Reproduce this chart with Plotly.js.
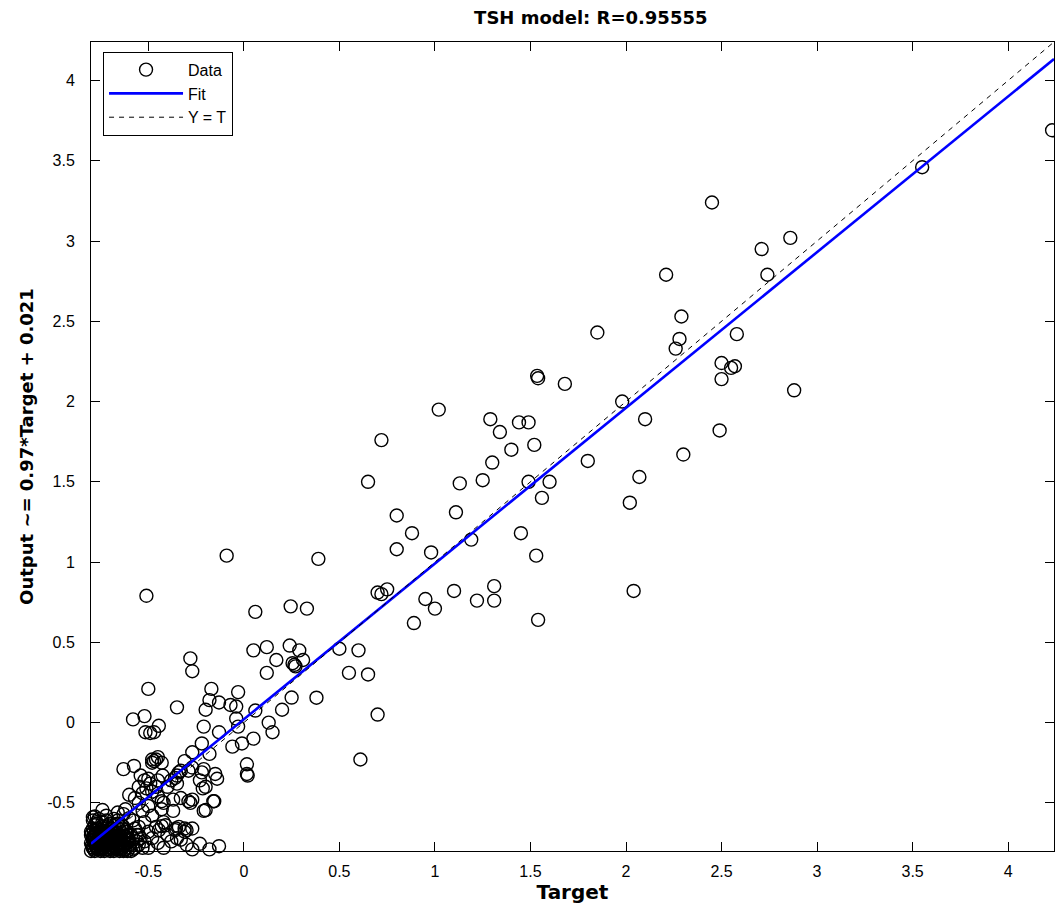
<!DOCTYPE html>
<html>
<head>
<meta charset="utf-8">
<script src="https://cdn.plot.ly/plotly-3.0.1.min.js"></script>
<style>html,body{margin:0;padding:0;background:#fff;}#chart{width:1055px;height:906px;}</style>
</head>
<body>
<div id="chart"></div>
<script>
// Target values (x) and network Output values (y)
const targetVals = [
  4.23, 3.55, 2.45, 2.86, 2.71, 2.21, 2.74, 2.29, 1.85, 2.58, 2.28, 2.26, 2.50, 2.55, 2.57, 2.50, 1.68, 1.98, 2.88, 2.10,
  2.49, 1.80, 2.30, 2.07, 2.02, 2.04, 1.535, 1.54, 1.60, 1.56, 1.49, 1.52, 1.53, 1.54,
  1.02, 1.29, 1.44, 1.49, 1.34, 0.72, 1.40, 1.30, 0.65, 1.13, 1.25, 0.80, 1.11, 0.88, 1.45, 1.19, 0.39, 0.80, 0.98,
  0.70, 0.72, 0.75, 1.10, 1.31, 0.95, 1.22, 1.31, 1.00, 0.89, 0.33,
  0.50, 0.60, 0.55, 0.65, 0.70, 0.61, 0.38, 0.25,
  -0.09, -0.51, 0.06, 0.245,
  -0.28, -0.27, 0.05, 0.12, 0.24, 0.29, 0.17, 0.255, 0.265, 0.27, 0.31, 0.12,
  -0.17, -0.03, -0.18, -0.13, -0.07, -0.04, -0.35, -0.20, 0.06, 0.20, -0.04, 0.13, 0.15, -0.21, -0.03, -0.13, 0.05,
  -0.22, -0.27, -0.01, -0.06, -0.18, -0.31, -0.34, -0.21, 0.016, 0.016, 0.02, -0.15, -0.14, -0.35, -0.20,
  -0.50, -0.58, -0.52, -0.515, -0.49, -0.47, -0.445,
  -0.63, -0.48, -0.45, -0.47, -0.43, -0.575, -0.46, -0.48,
  -0.425, -0.36, -0.29, -0.27, -0.23, -0.22, -0.215,
  -0.20, -0.155, -0.27, -0.28, -0.37, -0.45, -0.43, -0.37, -0.33, -0.29, -0.21, -0.16, -0.43, -0.42,
  -0.36, -0.34, -0.31, -0.30, -0.46, -0.43, -0.445, -0.42, -0.41, -0.355, -0.31, -0.27,
  -0.54, -0.52, -0.50, -0.49, -0.55, -0.51, -0.48, -0.46, -0.45, -0.53,
  -0.40, -0.38, -0.35, -0.33,
  -0.78, -0.74, -0.72, -0.62, -0.63, -0.60, -0.58, -0.79, -0.77, -0.66, -0.68, -0.70, -0.55, -0.57, -0.60, -0.53,
  -0.50, -0.48, -0.52, -0.55, -0.50, -0.48, -0.52, -0.56, -0.40, -0.38, -0.35, -0.45, -0.42, -0.50, -0.55,
  -0.23, -0.18, -0.13, -0.30, -0.27, -0.33,
  -0.80, -0.79, -0.78, -0.77, -0.76, -0.75, -0.74, -0.73, -0.72, -0.71, -0.70, -0.69, -0.68, -0.67, -0.66, -0.65,
  -0.64, -0.63, -0.62, -0.61, -0.60, -0.59,
  -0.80, -0.79, -0.78, -0.77, -0.76, -0.75, -0.74, -0.73, -0.72, -0.71, -0.70, -0.69, -0.68, -0.67, -0.66, -0.65,
  -0.64, -0.63, -0.62, -0.61, -0.60,
  -0.80, -0.79, -0.77, -0.75, -0.73, -0.71, -0.69, -0.67, -0.65, -0.63, -0.78, -0.74, -0.70, -0.66, -0.62, -0.58,
  -0.57, -0.56,
  -0.795, -0.785, -0.775, -0.765, -0.755, -0.745, -0.735, -0.725, -0.715, -0.705, -0.695, -0.685, -0.675, -0.665,
  -0.655, -0.645, -0.635, -0.625, -0.79, -0.77, -0.75, -0.73, -0.71, -0.69, -0.67, -0.65, -0.63, -0.61,
  -0.785, -0.76, -0.735, -0.71, -0.685, -0.66, -0.635, -0.61, -0.59, -0.57, -0.55, -0.60, -0.58, -0.54, -0.53,
  -0.77, -0.74, -0.72, -0.76, -0.79, -0.80, -0.71, -0.68, -0.66, -0.64,
  -0.792, -0.782, -0.772, -0.762, -0.752, -0.742, -0.732, -0.722, -0.712, -0.702, -0.692, -0.682, -0.672, -0.662,
  -0.652, -0.642, -0.632, -0.788, -0.768, -0.748, -0.728, -0.708, -0.688, -0.668, -0.648, -0.628, -0.608,
  -0.795, -0.775, -0.755, -0.735, -0.715, -0.695, -0.675, -0.655
];
const outputVals = [
  3.69, 3.46, 3.24, 3.02, 2.95, 2.79, 2.79, 2.53, 2.43, 2.42, 2.39, 2.33, 2.24, 2.21, 2.22, 2.14, 2.11, 2.00, 2.07, 1.89,
  1.82, 1.63, 1.67, 1.53, 1.37, 0.82, 2.16, 2.145, 1.50, 1.40, 1.50, 1.73, 1.04, 0.64,
  1.95, 1.89, 1.87, 1.87, 1.81, 1.76, 1.70, 1.62, 1.50, 1.49, 1.51, 1.29, 1.31, 1.18, 1.18, 1.14, 1.02, 1.08, 1.06,
  0.81, 0.80, 0.83, 0.82, 0.85, 0.77, 0.76, 0.76, 0.71, 0.62, 0.71,
  0.46, 0.45, 0.31, 0.30, 0.05, -0.23, 0.155, 0.156,
  1.04, 0.79, 0.69, 0.724,
  0.40, 0.32, 0.45, 0.47, 0.48, 0.45, 0.39, 0.37, 0.36, 0.35, 0.39, 0.31,
  0.21, 0.19, 0.14, 0.125, 0.11, 0.10, 0.095, 0.08, 0.075, 0.08, 0.025, 0.00, -0.06, -0.025, -0.025, -0.06, -0.10,
  -0.13, -0.185, -0.13, -0.15, -0.195, -0.24, -0.31, -0.29, -0.26, -0.32, -0.33, -0.32, -0.35, -0.38, -0.40,
  0.21, 0.02, 0.04, -0.06, -0.065, -0.06, -0.02,
  -0.29, -0.23, -0.215, -0.24, -0.25, -0.27, -0.23, -0.25,
  -0.33, -0.345, -0.30, -0.28, -0.36, -0.31, -0.41,
  -0.545, -0.49, -0.48, -0.50, -0.55, -0.46, -0.49, -0.48, -0.47, -0.49, -0.55, -0.49, -0.54, -0.50,
  -0.67, -0.65, -0.68, -0.67, -0.65, -0.645, -0.67, -0.62, -0.64, -0.66, -0.66, -0.66,
  -0.33, -0.36, -0.35, -0.38, -0.40, -0.41, -0.43, -0.40, -0.36, -0.44,
  -0.40, -0.36, -0.33, -0.30,
  -0.585, -0.545, -0.58, -0.54, -0.57, -0.595, -0.61, -0.59, -0.62, -0.56, -0.60, -0.63, -0.50, -0.47, -0.45, -0.55,
  -0.52, -0.58, -0.62, -0.65, -0.68, -0.72, -0.74, -0.70, -0.70, -0.74, -0.72, -0.75, -0.78, -0.78, -0.76,
  -0.755, -0.79, -0.77, -0.76, -0.79, -0.73,
  -0.80, -0.78, -0.80, -0.77, -0.79, -0.80, -0.78, -0.80, -0.77, -0.79, -0.80, -0.78, -0.80, -0.77, -0.79, -0.80,
  -0.78, -0.80, -0.79, -0.80, -0.78, -0.80,
  -0.75, -0.73, -0.71, -0.74, -0.72, -0.75, -0.73, -0.70, -0.74, -0.72, -0.75, -0.73, -0.71, -0.74, -0.72, -0.75,
  -0.72, -0.74, -0.71, -0.75, -0.73,
  -0.68, -0.66, -0.69, -0.67, -0.65, -0.68, -0.66, -0.69, -0.67, -0.65, -0.64, -0.62, -0.66, -0.63, -0.68, -0.72,
  -0.78, -0.74,
  -0.765, -0.79, -0.765, -0.79, -0.765, -0.79, -0.765, -0.79, -0.765, -0.79, -0.765, -0.79, -0.765, -0.79,
  -0.765, -0.79, -0.765, -0.79, -0.72, -0.70, -0.72, -0.70, -0.72, -0.70, -0.72, -0.70, -0.72, -0.70,
  -0.675, -0.685, -0.675, -0.685, -0.675, -0.685, -0.66, -0.68, -0.70, -0.66, -0.70, -0.76, -0.79, -0.72, -0.78,
  -0.63, -0.645, -0.61, -0.60, -0.61, -0.70, -0.64, -0.645, -0.61, -0.635,
  -0.778, -0.752, -0.778, -0.752, -0.778, -0.752, -0.778, -0.752, -0.778, -0.752, -0.778, -0.752, -0.778, -0.752,
  -0.778, -0.752, -0.778, -0.708, -0.728, -0.708, -0.728, -0.708, -0.728, -0.708, -0.728, -0.708, -0.728,
  -0.692, -0.662, -0.692, -0.662, -0.692, -0.662, -0.692, -0.662
];

// Linear fit shown in the y-axis label: Output ~= 0.97*Target + 0.021
const fitSlope = 0.97;
const fitIntercept = 0.021;
const axisLimits = [-0.80, 4.24];
const tickValues = [-0.5, 0, 0.5, 1, 1.5, 2, 2.5, 3, 3.5, 4];
const tickLabels = ['-0.5', '0', '0.5', '1', '1.5', '2', '2.5', '3', '3.5', '4'];

const fitX = axisLimits.slice();
const fitY = fitX.map(t => fitSlope * t + fitIntercept);

const font = 'Arial, "Liberation Sans", Helvetica, sans-serif';
const wideFont = '"DejaVu Sans", Verdana, sans-serif';

const traces = [
  {
    x: targetVals, y: outputVals, type: 'scatter', mode: 'markers', name: 'Data',
    cliponaxis: false,
    marker: {symbol: 'circle-open', size: 13, color: '#000', line: {width: 1.4, color: '#000'}}
  },
  {
    x: fitX, y: fitY, type: 'scatter', mode: 'lines', name: 'Fit',
    line: {color: '#0000ff', width: 2.6}
  },
  {
    x: axisLimits, y: axisLimits, type: 'scatter', mode: 'lines', name: 'Y = T',
    line: {color: '#000', width: 1, dash: '5px,5px'}
  }
];

const axisCommon = {
  range: axisLimits,
  tickmode: 'array',
  tickvals: tickValues,
  ticktext: tickLabels,
  ticks: 'inside',
  ticklen: 9,
  tickwidth: 1,
  tickcolor: '#000',
  showline: true,
  linecolor: '#000',
  linewidth: 1,
  mirror: 'ticks',
  showgrid: false,
  zeroline: false,
  tickfont: {family: font, size: 16, color: '#000'}
};

const layout = {
  width: 1055, height: 906,
  margin: {l: 91, r: 1, t: 42, b: 55},
  paper_bgcolor: '#fff', plot_bgcolor: '#fff',
  title: {
    text: '<b>TSH model: R=0.95555</b>',
    font: {family: wideFont, size: 18, color: '#000'},
    x: 0.56, xanchor: 'center', y: 0.98, yanchor: 'middle'
  },
  xaxis: Object.assign({}, axisCommon, {
    title: {text: '<b>Target</b>', font: {family: wideFont, size: 20, color: '#000'}, standoff: 4},
    ticklabelstandoff: 6
  }),
  yaxis: Object.assign({}, axisCommon, {
    title: {text: '<b>Output ~= 0.97*Target + 0.021</b>', font: {family: wideFont, size: 18, color: '#000'}, standoff: 8},
    ticklabelstandoff: 12
  }),
  showlegend: true,
  legend: {
    x: 0.0125, xanchor: 'left', y: 0.988, yanchor: 'top',
    bgcolor: '#fff', bordercolor: '#000', borderwidth: 1,
    font: {family: font, size: 16, color: '#000'},
    itemwidth: 74,
    tracegroupgap: 0
  }
};

Plotly.newPlot('chart', traces, layout, {displayModeBar: false, staticPlot: true});
</script>
</body>
</html>
